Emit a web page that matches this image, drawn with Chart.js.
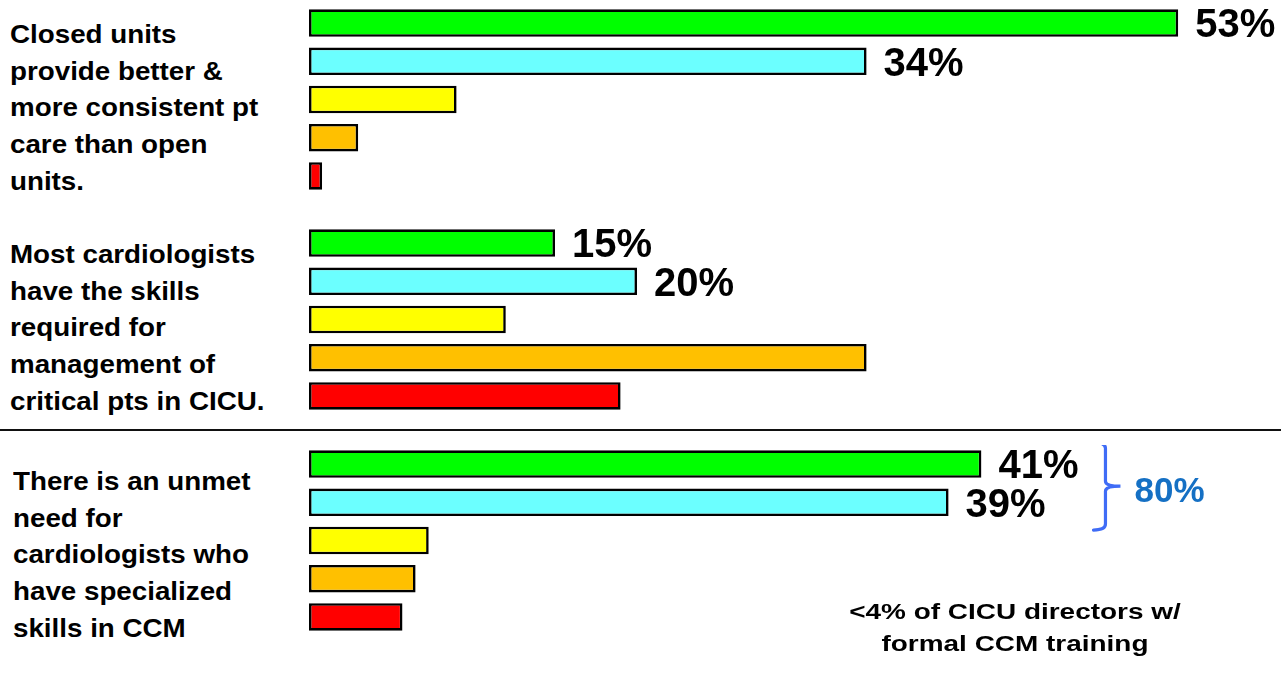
<!DOCTYPE html>
<html lang="en">
<head>
    <meta charset="UTF-8">
    <title>CICU survey responses</title>
    <script src="https://cdn.jsdelivr.net/npm/chart.js"></script>
    <style>
        html, body {
            margin: 0;
            padding: 0;
            background: #fff;
            width: 1281px;
            height: 683px;
            overflow: hidden;
            font-family: 'Liberation Sans', Arial, sans-serif;
        }
        .question {
            position: absolute;
            font-weight: bold;
            font-size: 25px;
            line-height: 36.7px;
            color: #000;
            white-space: nowrap;
            transform: scaleX(1.11);
            transform-origin: left top;
        }
        .chart {
            position: absolute;
            left: 0;
        }
        .divider {
            position: absolute;
            left: 0;
            top: 429px;
            width: 1281px;
            height: 2px;
            background: #111;
        }
        .note {
            position: absolute;
            left: 815px;
            top: 596px;
            width: 400px;
            text-align: center;
            font-weight: bold;
            font-size: 22px;
            line-height: 32.4px;
            white-space: nowrap;
            transform: scaleX(1.27);
            transform-origin: center top;
        }
    </style>
</head>
<body>
    <div class="question" style="left:10px; top:16px;">Closed units<br>provide better &amp;<br>more consistent pt<br>care than open<br>units.</div>
    <div class="question" style="left:10px; top:236px;">Most cardiologists<br>have the skills<br>required for<br>management of<br>critical pts in CICU.</div>
    <div class="question" style="left:13px; top:463px;">There is an unmet<br>need for<br>cardiologists who<br>have specialized<br>skills in CCM</div>

    <canvas class="chart" id="closed" width="1281" height="191" style="top:4px;"></canvas>
    <canvas class="chart" id="skills" width="1281" height="191" style="top:224px;"></canvas>
    <canvas class="chart" id="unmet" width="1281" height="191" style="top:445px;"></canvas>

    <div class="divider"></div>
    <div class="note">&lt;4% of CICU directors w/<br>formal CCM training</div>

<script>
    // answer scale, one bar per answer in every group
    const answers = ['Strongly agree', 'Agree', 'Neutral', 'Disagree', 'Strongly disagree'];
    const answerColors = ['#00ff00', '#6bffff', '#ffff00', '#ffc000', '#ff0000'];

    // % of respondents per answer
    const closedUnits = [53, 34, 9, 3, 0.8];
    const cardiologistSkills = [15, 20, 12, 34, 19];
    const unmetNeed = [41, 39, 7.3, 6.5, 5.7];

    // only the two "agree" bars carry a value label
    const labelled = [0, 1];

    const labelFont = 'bold 40px "Liberation Sans", Arial, sans-serif';

    const valueLabels = {
        id: 'valueLabels',
        afterDatasetsDraw(chart) {
            const ctx = chart.ctx;
            const meta = chart.getDatasetMeta(0);
            const values = chart.data.datasets[0].data;
            ctx.save();
            ctx.font = labelFont;
            ctx.fillStyle = '#000';
            ctx.textAlign = 'left';
            ctx.textBaseline = 'alphabetic';
            labelled.forEach(i => {
                const bar = meta.data[i];
                ctx.fillText(values[i] + '%', bar.x + 17, bar.y + 14.3);
            });
            ctx.restore();
        }
    };

    // curly brace joining the two agree bars, with their total
    const agreeBrace = {
        id: 'agreeBrace',
        afterDatasetsDraw(chart) {
            const ctx = chart.ctx;
            const meta = chart.getDatasetMeta(0);
            const values = chart.data.datasets[0].data;
            const b0 = meta.data[0], b1 = meta.data[1];

            ctx.save();
            ctx.font = labelFont;
            let labelEnd = 0;
            labelled.forEach(i => {
                const w = ctx.measureText(values[i] + '%').width;
                labelEnd = Math.max(labelEnd, meta.data[i].x + 17 + w);
            });

            const top = b0.y - b0.height / 2 - 8;
            const bottom = b1.y + b1.height / 2 + 14;
            const mid = (top + bottom) / 2;
            const x0 = labelEnd + 15, xv = x0 + 12, xt = xv + 15;

            ctx.strokeStyle = '#3f6cf6';
            ctx.lineWidth = 3.2;
            ctx.lineCap = 'round';
            ctx.beginPath();
            ctx.moveTo(x0, top);
            ctx.quadraticCurveTo(xv, top, xv, top + 6);
            ctx.lineTo(xv, mid - 5);
            ctx.quadraticCurveTo(xv, mid, xt, mid);
            ctx.quadraticCurveTo(xv, mid, xv, mid + 5);
            ctx.lineTo(xv, bottom - 6);
            ctx.quadraticCurveTo(xv, bottom, x0, bottom);
            ctx.stroke();

            ctx.font = 'bold 35px "Liberation Sans", Arial, sans-serif';
            ctx.fillStyle = '#1570c4';
            ctx.textBaseline = 'alphabetic';
            ctx.fillText((values[0] + values[1]) + '%', xt + 14, mid + 16);
            ctx.restore();
        }
    };

    function drawGroup(id, values, extraPlugins) {
        return new Chart(document.getElementById(id), {
            type: 'bar',
            data: {
                labels: answers,
                datasets: [{
                    data: values,
                    backgroundColor: answerColors,
                    borderColor: '#000',
                    borderWidth: 2.6,
                    borderSkipped: false,
                    barPercentage: 0.72,
                    categoryPercentage: 1
                }]
            },
            options: {
                indexAxis: 'y',
                responsive: false,
                animation: false,
                events: [],
                layout: { padding: { left: 309, right: 70, top: 0, bottom: 0 } },
                scales: {
                    x: { display: false, min: 0, max: 55 },
                    y: { display: false }
                },
                plugins: {
                    legend: { display: false },
                    tooltip: { enabled: false }
                }
            },
            plugins: [valueLabels].concat(extraPlugins || [])
        });
    }

    drawGroup('closed', closedUnits);
    drawGroup('skills', cardiologistSkills);
    drawGroup('unmet', unmetNeed, [agreeBrace]);
</script>
</body>
</html>
